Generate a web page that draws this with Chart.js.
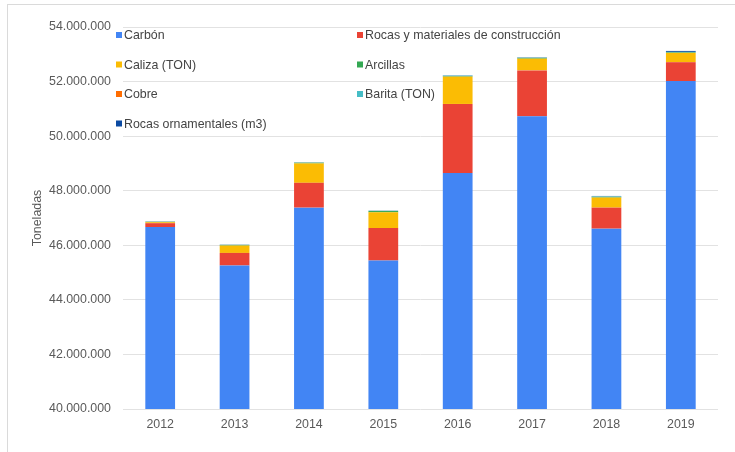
<!DOCTYPE html>
<html>
<head>
<meta charset="utf-8">
<script src="https://cdn.jsdelivr.net/npm/chart.js@4"></script>
<style>
  html, body { margin: 0; padding: 0; background: #fff; }
  #wrap { position: relative; width: 735px; height: 452px; overflow: hidden; }
  #frame { position: absolute; left: 7px; top: 4px; width: 740px; height: 460px;
           border-left: 1px solid #dadada; border-top: 1px solid #dadada; }
  canvas { position: absolute; left: 0; top: 0; }
</style>
</head>
<body>
<div id="wrap">
  <div id="frame"></div>
  <canvas id="chart" width="735" height="452"></canvas>
</div>
<script>
const years = ["2012", "2013", "2014", "2015", "2016", "2017", "2018", "2019"];

const carbon = [46670000, 45260000, 47380000, 45440000, 48650000, 50730000, 46610000, 52020000];
const rocas = [140000, 460000, 910000, 1190000, 2530000, 1680000, 770000, 690000];
const caliza = [35000, 270000, 710000, 580000, 1000000, 430000, 370000, 340000];
const arcillas = [15000, 20000, 25000, 45000, 20000, 25000, 20000, 20000];
const cobre = [3000, 3000, 3000, 3000, 3000, 3000, 3000, 3000];
const barita = [8000, 10000, 10000, 10000, 15000, 15000, 25000, 15000];
const rocasOrn = [5000, 5000, 5000, 5000, 10000, 10000, 10000, 35000];

const yMin = 40000000, yMax = 54000000, yStep = 2000000;

const series = [
  { label: "Carbón", data: carbon, color: "#4285F4" },
  { label: "Rocas y materiales de construcción", data: rocas, color: "#EA4335" },
  { label: "Caliza (TON)", data: caliza, color: "#FBBC04" },
  { label: "Arcillas", data: arcillas, color: "#34A853" },
  { label: "Cobre", data: cobre, color: "#FF6D01" },
  { label: "Barita (TON)", data: barita, color: "#46BDC6" },
  { label: "Rocas ornamentales (m3)", data: rocasOrn, color: "#0B4AA2" },
];

const fontFamily = "'Liberation Sans', Arial, sans-serif";
const fmt = v => String(v).replace(/\B(?=(\d{3})+(?!\d))/g, ".");

// legend drawn in two columns inside the plot, like the original
const legendPlugin = {
  id: "twoColLegend",
  afterDraw(chart) {
    const ctx = chart.ctx;
    const left = chart.chartArea.left;
    const colX = [left - 7, left + 234];
    ctx.save();
    ctx.font = "12.4px " + fontFamily;
    ctx.textBaseline = "middle";
    chart.data.datasets.forEach((ds, i) => {
      const x = colX[i % 2];
      const y = 35 + Math.floor(i / 2) * 29.5;
      ctx.fillStyle = ds.backgroundColor;
      ctx.fillRect(x, y - 3, 6, 6);
      ctx.fillStyle = "#444";
      ctx.fillText(ds.label, x + 8, y + 1);
    });
    ctx.restore();
  }
};

new Chart(document.getElementById("chart"), {
  type: "bar",
  data: {
    labels: years,
    datasets: series.map(s => ({
      label: s.label,
      data: s.data,
      backgroundColor: s.color,
      borderWidth: 0,
      barPercentage: 0.4,
      categoryPercentage: 1,
    })),
  },
  options: {
    responsive: false,
    animation: false,
    layout: { padding: { left: 30, top: 27, right: 17, bottom: 0 } },
    plugins: { legend: { display: false }, tooltip: { enabled: false } },
    scales: {
      x: {
        stacked: true,
        grid: { display: false },
        border: { display: false },
        ticks: { color: "#5a5a5a", font: { family: fontFamily, size: 12.4 }, padding: 0 },
        afterFit(scale) { scale.height = 43; },
      },
      y: {
        stacked: true,
        min: yMin,
        max: yMax,
        grid: { color: "#e2e2e2", drawTicks: false },
        border: { display: false },
        ticks: {
          stepSize: yStep,
          color: "#5a5a5a",
          padding: 12,
          font: { family: fontFamily, size: 12.4 },
          callback: v => fmt(v),
        },
        title: {
          display: true,
          text: "Toneladas",
          color: "#5a5a5a",
          font: { family: fontFamily, size: 12.4 },
          padding: 0,
        },
        afterFit(scale) { scale.width = 93; },
      },
    },
  },
  plugins: [legendPlugin],
});
</script>
</body>
</html>
